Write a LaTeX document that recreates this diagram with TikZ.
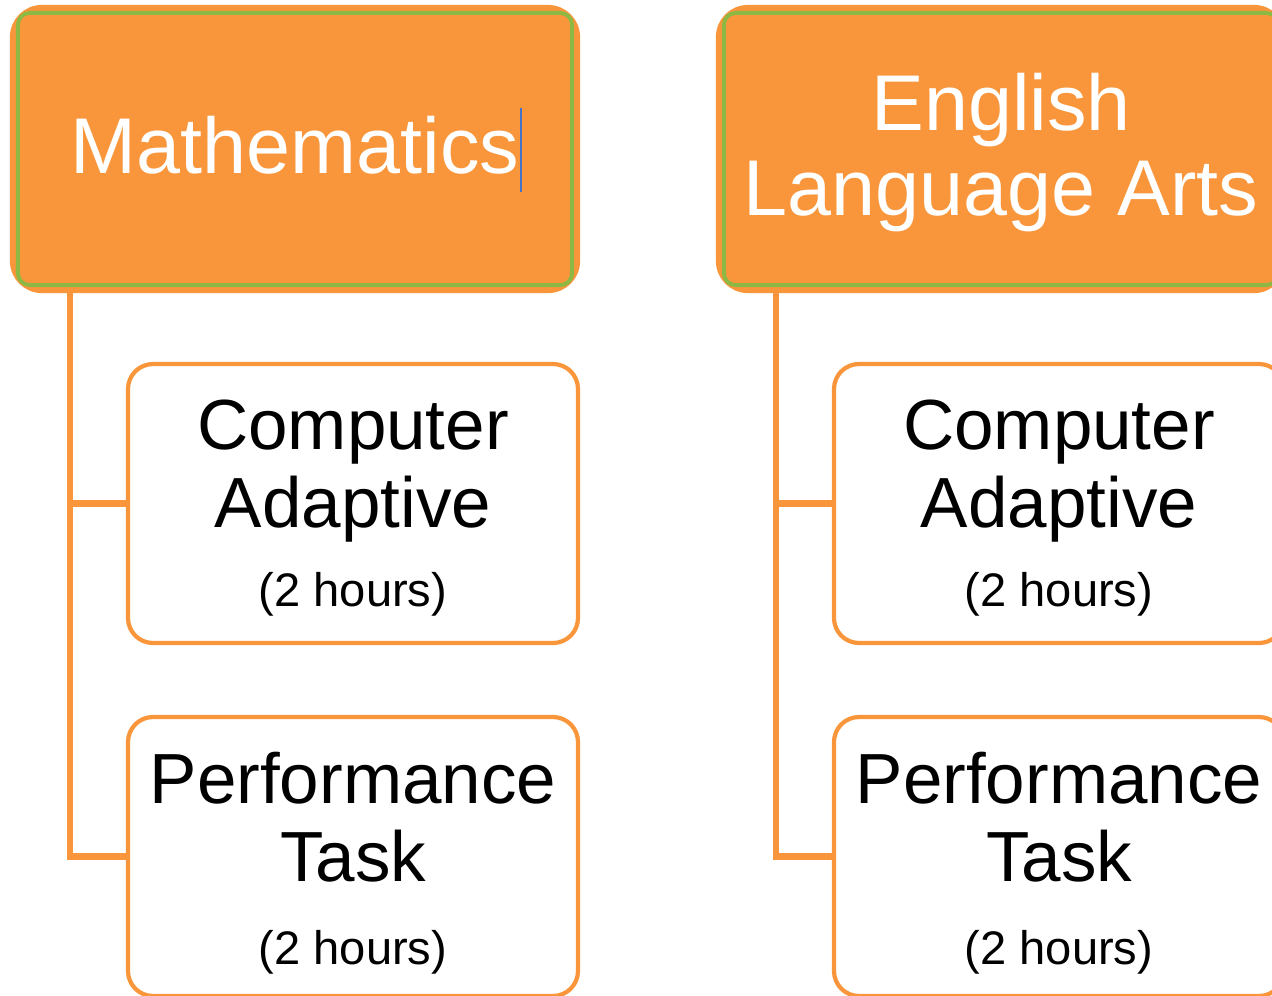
\documentclass[tikz,border=0pt]{standalone}
\usepackage{fontspec}
\setmainfont{Liberation Sans}
\definecolor{boxorange}{RGB}{249,150,59}
\definecolor{boxgreen}{RGB}{141,184,68}
\definecolor{cursorblue}{RGB}{68,114,196}
\tikzset{
  subject/.style={draw=boxorange, fill=boxorange, line width=1.2pt, rounded corners=0.3cm,
    minimum width=5.66cm, minimum height=2.84cm, inner sep=0pt, align=center,
    text=white, font=\fontsize{22.5}{24.2}\selectfont},
  part/.style={draw=boxorange, fill=white, line width=1.2pt, rounded corners=0.25cm,
    minimum width=4.50cm, minimum height=2.79cm, inner sep=0pt, align=center,
    font=\fontsize{20.2}{22.4}\selectfont},
  inset/.style={draw=boxgreen, line width=1.1pt, rounded corners=0.12cm},
  link/.style={draw=boxorange, line width=1.9pt},
  cursor/.style={draw=cursorblue, line width=0.5pt}
}
\begin{document}
\begin{tikzpicture}
\useasboundingbox (0,0) rectangle (12.72,-9.95);
\clip (0,0) rectangle (12.72,-9.95);
\node[subject] (math) at (2.95,-1.49) {Mathematics\rule[-0.08cm]{0pt}{0.08cm}};
\node[subject] (ela) at (10.01,-1.49) {\rule{0pt}{0.82em}English\\Language Arts};
\foreach \subj/\x in {math/0,ela/7.06}{
\draw[inset] ([shift={(0.08,-0.08)}]\subj.north west) rectangle ([shift={(-0.08,0.08)}]\subj.south east);
\node[part] (\subj-ca) at (3.53+\x,-5.035) {\rule{0pt}{0.82em}Computer\\Adaptive\\{\fontsize{13.4}{16}\selectfont (2 hours)}};
\node[part] (\subj-pt) at (3.53+\x,-8.565) {\rule{0pt}{0.9em}Performance\\Task\\[1pt]{\fontsize{13.4}{16}\selectfont (2 hours)}};
\draw[link] ([xshift=0.6cm]\subj.south west) |- (\subj-ca.west);
\draw[link] ([xshift=0.6cm]\subj.south west) |- (\subj-pt.west);
}
\draw[cursor] (5.21,-1.08) -- (5.21,-1.92);
\end{tikzpicture}
\end{document}
